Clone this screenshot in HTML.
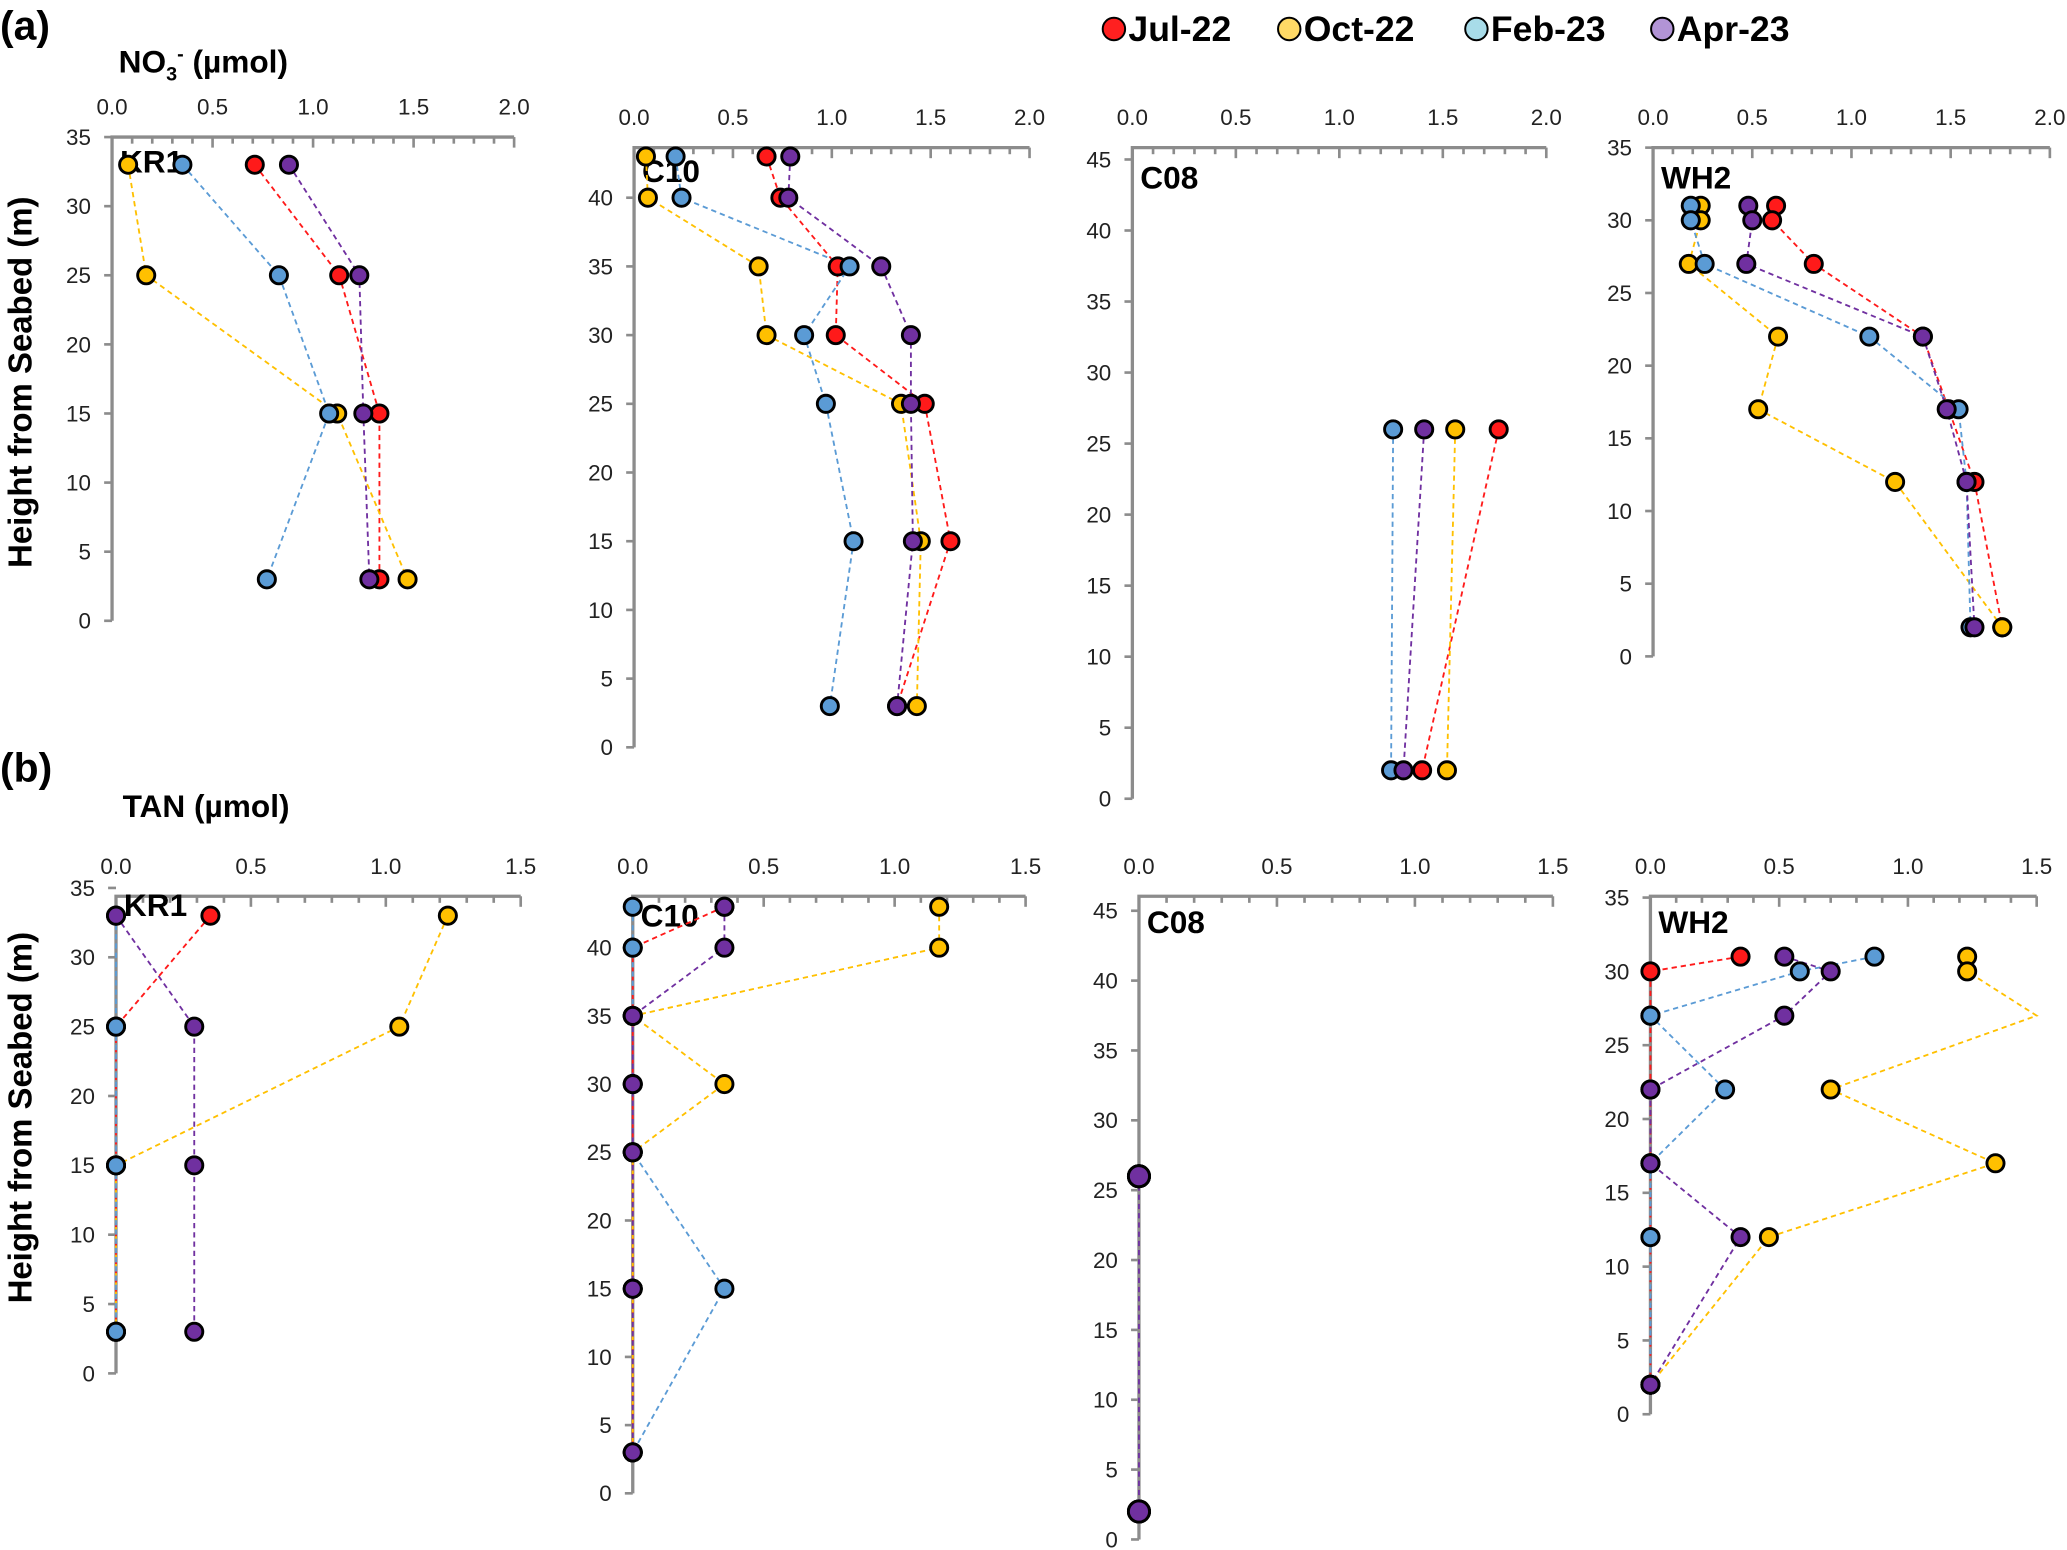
<!DOCTYPE html>
<html><head><meta charset="utf-8"><style>
html,body{margin:0;padding:0;background:#fff;}
svg{display:block;}
text{font-family:"Liberation Sans",Arial,sans-serif;}
</style></head><body>
<svg id="chart" width="2067" height="1550" viewBox="0 0 1568 1176" preserveAspectRatio="none" xmlns="http://www.w3.org/2000/svg">
<text x="0" y="30" font-size="31" font-weight="bold">(a)</text>
<text x="90" y="55" font-size="24" font-weight="bold">NO<tspan font-size="15" dy="6">3</tspan><tspan font-size="15" dy="-15">-</tspan><tspan dy="9"> (µmol)</tspan></text>
<text x="0" y="593" font-size="31" font-weight="bold">(b)</text>
<text x="93" y="620" font-size="24" font-weight="bold">TAN (µmol)</text>
<text transform="translate(24,290) rotate(-90)" text-anchor="middle" font-size="25" font-weight="bold">Height from Seabed (m)</text>
<text transform="translate(24,848) rotate(-90)" text-anchor="middle" font-size="25" font-weight="bold">Height from Seabed (m)</text>
<g>
<g><circle cx="845" cy="22" r="8.5" fill="#ff2020" stroke="#000" stroke-width="1.5"/><text x="856" y="31" font-size="27" font-weight="bold">Jul-22</text></g>
<g><circle cx="978" cy="22" r="8.5" fill="#ffd966" stroke="#000" stroke-width="1.5"/><text x="989" y="31" font-size="27" font-weight="bold">Oct-22</text></g>
<g><circle cx="1120" cy="22" r="8.5" fill="#a8dce9" stroke="#000" stroke-width="1.5"/><text x="1131" y="31" font-size="27" font-weight="bold">Feb-23</text></g>
<g><circle cx="1261" cy="22" r="8.5" fill="#b294d6" stroke="#000" stroke-width="1.5"/><text x="1272" y="31" font-size="27" font-weight="bold">Apr-23</text></g>
</g>
</svg>
<script>
// ---- data ----
const seriesNames = ["Jul-22","Oct-22","Feb-23","Apr-23"];
const kr1Heights = [33,25,15,3];
const c10Heights = [43,40,35,30,25,15,3];
const c08Heights = [26,2];
const wh2Heights = [31,30,27,22,17,12,2];
// NO3
const no3KR1Jul = [0.71,1.13,1.33,1.33];
const no3KR1Oct = [0.08,0.17,1.12,1.47];
const no3KR1Feb = [0.35,0.83,1.08,0.77];
const no3KR1Apr = [0.88,1.23,1.25,1.28];
const no3C10Jul = [0.67,0.74,1.03,1.02,1.47,1.60,1.33];
const no3C10Oct = [0.06,0.07,0.63,0.67,1.35,1.45,1.43];
const no3C10Feb = [0.21,0.24,1.09,0.86,0.97,1.11,0.99];
const no3C10Apr = [0.79,0.78,1.25,1.40,1.40,1.41,1.33];
const no3C08Jul = [1.77,1.40];
const no3C08Oct = [1.56,1.52];
const no3C08Feb = [1.26,1.25];
const no3C08Apr = [1.41,1.31];
const no3WH2Jul = [0.62,0.60,0.81,1.36,1.49,1.62,1.76];
const no3WH2Oct = [0.24,0.24,0.18,0.63,0.53,1.22,1.76];
const no3WH2Feb = [0.19,0.19,0.26,1.09,1.54,1.58,1.60];
const no3WH2Apr = [0.48,0.50,0.47,1.36,1.48,1.58,1.62];
// TAN
const tanKR1Jul = [0.35,0,0,0];
const tanKR1Oct = [1.23,1.05,0,0];
const tanKR1Feb = [0,0,0,0];
const tanKR1Apr = [0,0.29,0.29,0.29];
const tanC10Jul = [0.35,0,0,0,0,0,0];
const tanC10Oct = [1.17,1.17,0,0.35,0,0,0];
const tanC10Feb = [0,0,0,0,0,0.35,0];
const tanC10Apr = [0.35,0.35,0,0,0,0,0];
const tanC08Jul = [0,0];
const tanC08Oct = [0,0];
const tanC08Feb = [0,0];
const tanC08Apr = [0,0];
const tanWH2Jul = [0.35,0,0,0,0,0,0];
const tanWH2Oct = [1.23,1.23,1.5,0.70,1.34,0.46,0];
const tanWH2Feb = [0.87,0.58,0,0.29,0,0,0];
const tanWH2Apr = [0.52,0.70,0.52,0,0,0.35,0];
const no3Ticks = ["0.0","0.5","1.0","1.5","2.0"];
const tanTicks = ["0.0","0.5","1.0","1.5"];

const fills = ["#ff1a1a","#ffc000","#5b9bd5","#7030a0"];
const lines = ["#ff1a1a","#ffc000","#5b9bd5","#7030a0"];
const NS = "http://www.w3.org/2000/svg";
const svg = document.getElementById('chart');
function mk(tag, attrs, parent){const e=document.createElementNS(NS,tag);for(const k in attrs)e.setAttribute(k,attrs[k]);(parent||svg).appendChild(e);return e;}

function panel(cfg){
  const g = mk('g',{});
  
  
  const xs = v => cfg.x0 + (cfg.x1-cfg.x0)*v/cfg.xmax;
  const ys = v => cfg.y0 - (cfg.y0-cfg.yT)*v/cfg.yTv;
  const ax = mk('path',{d:`M${cfg.x0},${cfg.y0} L${cfg.x0},${cfg.top} L${cfg.x1},${cfg.top}`,fill:'none',stroke:'#8c8c8c','stroke-width':2.5},g);
  
  
  for(let v=0; v<=cfg.xmax+1e-6; v+=0.1){
    const major = Math.abs(v/0.5-Math.round(v/0.5))<1e-6;
    mk('line',{x1:xs(v),x2:xs(v),y1:cfg.top,y2:cfg.top+(major?8:5),stroke:'#8c8c8c','stroke-width':2},g);
  }
  cfg.ticks.forEach((t,i)=>{
    const tx = mk('text',{x:xs(i*0.5),y:cfg.top-17,'text-anchor':'middle','font-size':17,fill:'#222'},g);
    tx.textContent=t;
    
    
  });
  for(let v=0; v<=cfg.yMaxLab; v+=5){
    mk('line',{x1:cfg.x0-6,x2:cfg.x0,y1:ys(v),y2:ys(v),stroke:'#8c8c8c','stroke-width':2},g);
    const ty = mk('text',{x:cfg.x0-16,y:ys(v)+6,'text-anchor':'end','font-size':17,fill:'#222'},g);
    ty.textContent=v;
    
    
  }
  const lab = mk('text',{x:cfg.x0+6,y:cfg.labY,'font-size':24,'font-weight':'bold'},g);
  lab.textContent=cfg.label;
  
  
  cfg.series.forEach((vals,si)=>{
    const pts = vals.map((v,i)=>xs(v)+','+ys(cfg.h[i])).join(' ');
    const pl = mk('polyline',{points:pts,fill:'none',stroke:lines[si],'stroke-width':1.4,'stroke-dasharray':'4,3'},g);
    
    
  });
  cfg.series.forEach((vals,si)=>{
    vals.forEach((v,i)=>{
      if(v>cfg.xmax-1e-6 && cfg.clip) return;
      const c = mk('circle',{cx:xs(v),cy:ys(cfg.h[i]),r:cfg.r||6.5,fill:fills[si],stroke:'#000','stroke-width':2.2},g);
      
      
    });
  });
}
panel({name:'panel-a-kr1',label:'KR1',labY:131,x0:85,x1:390,xmax:2,y0:471,yT:104,yTv:35,yMaxLab:35,top:104,ticks:no3Ticks,h:kr1Heights,series:[no3KR1Jul,no3KR1Oct,no3KR1Feb,no3KR1Apr]});
panel({name:'panel-a-c10',label:'C10',labY:138,x0:481,x1:781,xmax:2,y0:567,yT:150,yTv:40,yMaxLab:40,top:112,ticks:no3Ticks,h:c10Heights,series:[no3C10Jul,no3C10Oct,no3C10Feb,no3C10Apr]});
panel({name:'panel-a-c08',label:'C08',labY:143,x0:859,x1:1173,xmax:2,y0:606,yT:121,yTv:45,yMaxLab:45,top:112,ticks:no3Ticks,h:c08Heights,series:[no3C08Jul,no3C08Oct,no3C08Feb,no3C08Apr]});
panel({name:'panel-a-wh2',label:'WH2',labY:143,x0:1254,x1:1555,xmax:2,y0:498,yT:112,yTv:35,yMaxLab:35,top:112,ticks:no3Ticks,h:wh2Heights,series:[no3WH2Jul,no3WH2Oct,no3WH2Feb,no3WH2Apr]});
panel({name:'panel-b-kr1',label:'KR1',labY:695,x0:88,x1:395,xmax:1.5,y0:1042,yT:680,yTv:34.4,yMaxLab:35,top:680,ticks:tanTicks,h:kr1Heights,series:[tanKR1Jul,tanKR1Oct,tanKR1Feb,tanKR1Apr]});
panel({name:'panel-b-c10',label:'C10',labY:703,x0:480,x1:778,xmax:1.5,y0:1133,yT:719,yTv:40,yMaxLab:40,top:680,ticks:tanTicks,h:c10Heights,series:[tanC10Jul,tanC10Oct,tanC10Feb,tanC10Apr]});
panel({name:'panel-b-c08',label:'C08',labY:708,r:8,x0:864,x1:1178,xmax:1.5,y0:1168,yT:691,yTv:45,yMaxLab:45,top:680,ticks:tanTicks,h:c08Heights,series:[tanC08Jul,tanC08Oct,tanC08Feb,tanC08Apr]});
panel({name:'panel-b-wh2',label:'WH2',labY:708,x0:1252,x1:1545,xmax:1.5,y0:1073,yT:681,yTv:35,yMaxLab:35,top:680,clip:true,ticks:tanTicks,h:wh2Heights,series:[tanWH2Jul,tanWH2Oct,tanWH2Feb,tanWH2Apr]});
</script>
</body></html>
